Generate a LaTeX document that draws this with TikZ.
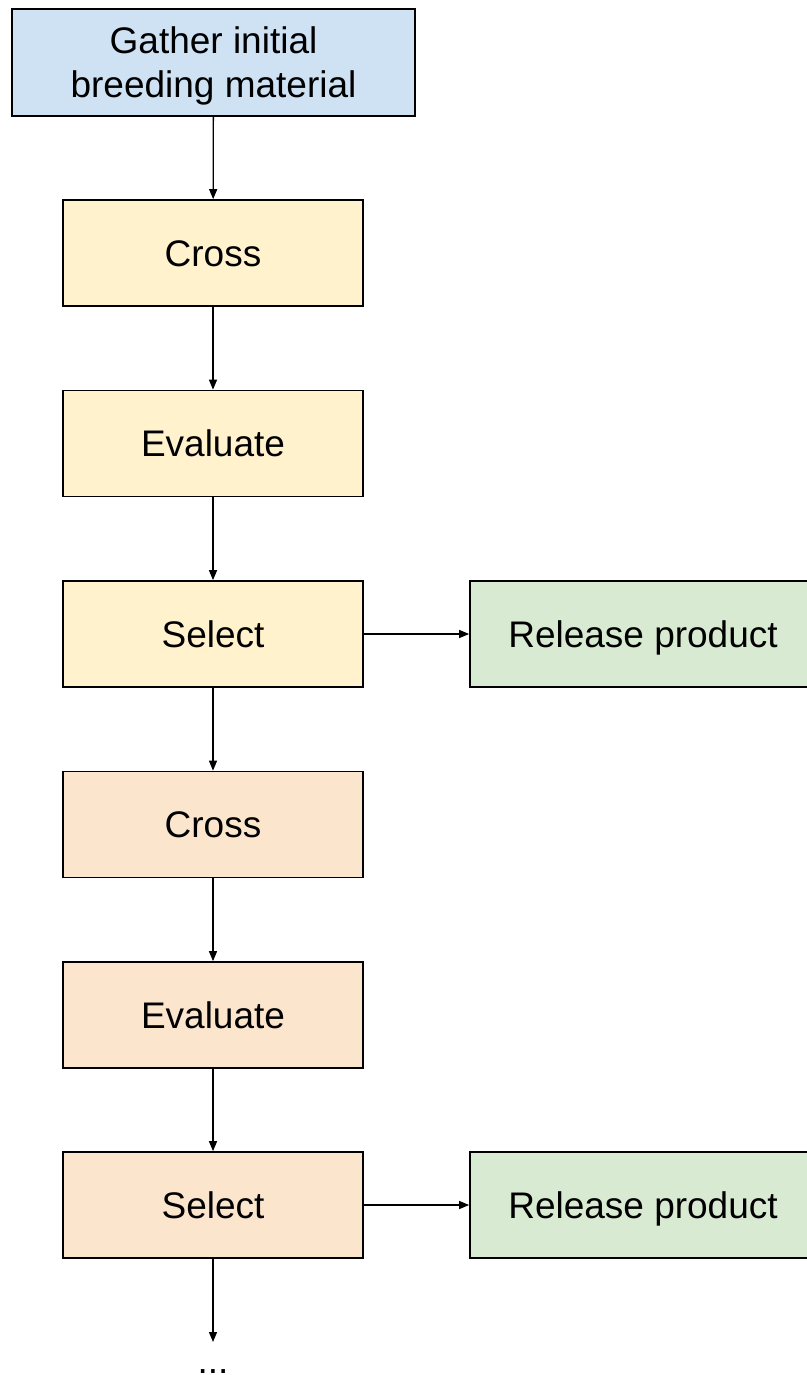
\documentclass[tikz,border=0pt]{standalone}
\usepackage{fontspec}
\setmainfont{Liberation Sans}
\usetikzlibrary{arrows.meta}
\definecolor{startblue}{HTML}{CFE2F3}
\definecolor{roundone}{HTML}{FFF2CC}
\definecolor{roundtwo}{HTML}{FCE5CD}
\definecolor{releasegreen}{HTML}{D9EAD3}
\tikzset{
  stepbox/.style={draw=black, line width=1.7pt, minimum width=300pt, minimum height=106pt,
    inner sep=0pt, align=center, font=\fontsize{37}{44}\selectfont,
    text height=33pt, text depth=7pt},
  releasebox/.style={stepbox, fill=releasegreen, minimum width=346pt},
  flow/.style={line width=1.3pt, -{Triangle[length=10pt,width=8pt]}}
}
\begin{document}
\begin{tikzpicture}[x=1pt,y=-1pt]
\useasboundingbox (0,0) rectangle (806,1375);
% starting point (two lines, struts keep the baselines even)
\node[stepbox, fill=startblue, minimum width=403pt, minimum height=107pt,
  text height=, text depth=] (gather) at (213.5,62.5)
  {\rule{0pt}{33pt}Gather initial\\breeding material\rule[-4pt]{0pt}{4pt}};
% first breeding cycle
\node[stepbox, fill=roundone] (cross1) at (213,253) {Cross};
\node[stepbox, fill=roundone] (eval1) at (213,443.5) {Evaluate};
\node[stepbox, fill=roundone] (select1) at (213,634) {Select};
\node[releasebox] (release1) at (643,634) {Release product};
% second breeding cycle
\node[stepbox, fill=roundtwo] (cross2) at (213,824.5) {Cross};
\node[stepbox, fill=roundtwo] (eval2) at (213,1015) {Evaluate};
\node[stepbox, fill=roundtwo] (select2) at (213,1205) {Select};
\node[releasebox] (release2) at (643,1205) {Release product};
% continuation
\coordinate (more) at (213,1342);
\node[anchor=base, font=\fontsize{37}{44}\selectfont, inner sep=0pt] (dots) at (213,1373) {...};
% connectors
\draw[flow] (gather) -- (cross1);
\draw[flow] (cross1) -- (eval1);
\draw[flow] (eval1) -- (select1);
\draw[flow] (select1) -- (release1);
\draw[flow] (select1) -- (cross2);
\draw[flow] (cross2) -- (eval2);
\draw[flow] (eval2) -- (select2);
\draw[flow] (select2) -- (release2);
\draw[flow] (select2) -- (more);
\end{tikzpicture}
\end{document}
